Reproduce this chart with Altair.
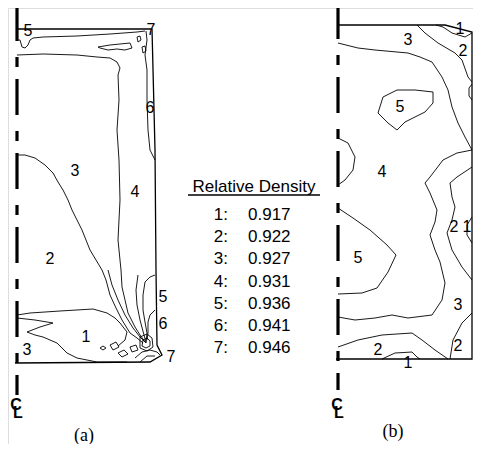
import altair as alt
import pandas as pd

# ---------------- data (r, z in 0.1 mm, origin at centreline / bottom of each section) ----
levels = ["1:", "2:", "3:", "4:", "5:", "6:", "7:"]
densities = ["0.917", "0.922", "0.927", "0.931", "0.936", "0.941", "0.946"]

A_box = [(0, 334), (135, 334), (138, 213), (139, 93), (140, 18), (145, 8), (133, 1), (-2, 0)]
A_contours = {
    "a1": [(0, 323), (3, 323), (5, 316), (8, 315), (11, 318), (13, 323), (16, 325), (26, 326),
           (60, 327), (93, 329), (120, 331), (128, 332)],
    "a2": [(0, 308), (26, 309), (60, 308), (80, 306), (93, 305), (100, 301), (103, 295), (101, 288),
           (102, 263), (100, 233), (102, 203), (103, 163), (101, 123), (104, 93), (105, 76),
           (111, 50), (118, 36), (123, 28), (129, 20)],
    "a3": [(0, 208), (8, 208), (18, 205), (28, 198), (36, 190), (41, 181), (46, 173), (51, 163),
           (55, 153), (60, 143), (65, 133), (69, 123), (73, 113), (79, 103), (85, 93), (89, 83),
           (93, 68), (99, 55), (105, 43), (113, 30), (120, 25), (126, 20)],
    "a4": [(129, 332), (130, 323), (128, 308), (130, 293), (130, 263), (131, 233), (133, 213), (138, 203)],
    "a5": [(81, 316), (93, 318), (103, 319), (113, 320), (115, 315), (108, 313), (100, 314), (91, 313),
           (83, 315), (81, 316)],
    "a6": [(120, 326), (123, 327), (124, 323), (121, 321), (120, 326)],
    "a7": [(125, 316), (128, 317), (129, 312), (126, 310), (125, 316)],
    "a8": [(138, 88), (133, 86), (128, 81), (126, 68), (126, 53), (128, 41), (130, 30), (129, 20)],
    "a9": [(138, 53), (133, 48), (131, 41), (131, 30), (130, 23)],
    "a10": [(91, 93), (95, 78), (101, 63), (108, 48), (116, 35), (123, 26), (128, 21)],
    "a11": [(121, 88), (119, 73), (120, 58), (123, 43), (127, 28), (129, 21)],
    "a12": [(0, 48), (13, 50), (43, 52), (76, 54), (90, 50), (98, 45), (103, 40), (110, 31),
            (108, 23), (101, 17)],
    "a13": [(0, 45), (18, 43), (36, 40), (23, 36), (10, 31), (18, 28), (26, 26), (33, 23), (40, 20),
            (45, 15), (50, 10), (60, 5), (80, 1), (110, 1)],
    "a14": [(83, 15), (86, 17), (89, 15), (86, 13), (83, 15)],
    "a15": [(93, 18), (99, 21), (102, 16), (96, 13), (93, 18)],
    "a16": [(101, 10), (107, 13), (111, 9), (105, 6), (101, 10)],
    "a17": [(113, 16), (119, 18), (121, 13), (115, 11), (113, 16)],
    "a18": [(126, 23), (130, 25), (133, 22), (133, 17), (129, 15), (125, 17), (126, 23)],
    "a19": [(123, 26), (130, 29), (135, 25), (136, 16), (130, 12), (123, 15), (123, 26)],
    "a20": [(118, 5), (125, 11), (133, 13), (140, 11), (143, 8)],
    "a21": [(123, 1), (130, 7), (138, 7)],
}
A_labels = [("5", 11, 332), ("7", 134, 333), ("6", 133, 255), ("3", 58, 192), ("4", 118, 171),
            ("2", 33, 104), ("5", 146, 66), ("6", 146, 39), ("1", 69, 26), ("3", 10, 13),
            ("7", 154, 6)]
A_centre = [(0, 358), (0, -32)]

B_box = [(0, 334), (107, 334), (134, 327), (134, 0), (-2, 0)]
B_contours = {
    "b1": [(98, 334), (105, 332), (114, 326), (127, 322), (134, 326)],
    "b2": [(79, 334), (87, 326), (100, 316), (117, 306), (124, 299), (130, 282), (134, 277)],
    "b3": [(0, 316), (20, 311), (37, 309), (70, 306), (82, 302), (94, 297), (104, 282), (110, 269),
           (114, 252), (120, 236), (127, 222), (134, 209)],
    "b4": [(59, 269), (77, 269), (95, 267), (95, 256), (87, 247), (67, 237), (59, 229), (50, 236),
           (40, 246), (45, 262), (59, 269)],
    "b5": [(0, 221), (10, 216), (17, 202), (15, 189), (7, 179), (0, 174)],
    "b6": [(134, 209), (119, 206), (105, 199), (92, 182), (87, 176), (92, 166), (99, 149), (97, 137),
           (92, 124), (97, 109), (102, 97), (107, 76), (104, 59), (94, 44), (70, 41), (54, 44),
           (37, 41), (17, 39), (0, 42)],
    "b7": [(134, 192), (119, 182), (112, 176), (114, 162), (117, 152), (114, 139), (109, 126),
           (114, 109), (124, 92), (134, 79)],
    "b8": [(134, 142), (129, 134), (129, 124), (134, 116)],
    "b9": [(134, 275), (131, 271), (131, 263), (134, 259)],
    "b10": [(0, 151), (15, 141), (32, 129), (49, 114), (58, 104), (50, 87), (39, 71), (24, 66), (0, 65)],
    "b11": [(0, 12), (20, 19), (44, 24), (74, 26), (84, 19), (97, 9), (110, 0)],
    "b12": [(44, 0), (57, 6), (74, 7), (79, 2), (82, 0)],
    "b13": [(134, 46), (124, 36), (115, 19), (112, 0)],
}
B_labels = [("1", 122, 330), ("3", 70, 319), ("2", 125, 308), ("5", 62, 252), ("4", 44, 187),
            ("2", 116, 132), ("1", 129, 132), ("5", 20, 101), ("3", 120, 54), ("2", 40, 9),
            ("2", 120, 13), ("1", 70, -4)]
B_centre = [(0, 356), (0, -31)]

# ---------------- layout (not data): where each section sits on the page ---------------
W, H = 465, 436
ORIGIN = {"a": (9, 355), "b": (330, 351)}   # position of (r=0, z=0) of each section
CAPTION = {"a": ("(a)", 67, -73), "b": ("(b)", 55, -73)}
CL_Z = {"a": -42, "b": -46}

FONT = "Liberation Sans"
INK = "#000000"


def place(panel, pts, name):
    ox, oy = ORIGIN[panel]
    return pd.DataFrame({"id": f"{panel}-{name}", "ord": range(len(pts)),
                         "px": [ox + p[0] for p in pts], "py": [oy - p[1] for p in pts]})


def place_text(panel, items):
    ox, oy = ORIGIN[panel]
    return pd.DataFrame({"t": [i[0] for i in items], "px": [ox + i[1] for i in items],
                         "py": [oy - i[2] for i in items]})


boxes = pd.concat([place("a", A_box, "box"), place("b", B_box, "box")], ignore_index=True)
conts = pd.concat([place("a", v, k) for k, v in A_contours.items()]
                  + [place("b", v, k) for k, v in B_contours.items()], ignore_index=True)
centres = pd.concat([place("a", A_centre, "cl"), place("b", B_centre, "cl")], ignore_index=True)
labels = pd.concat([place_text("a", A_labels), place_text("b", B_labels)], ignore_index=True)
clsym = pd.concat([place_text(p, [("C", -1, CL_Z[p]), ("L", 1, CL_Z[p] - 8)]) for p in "ab"],
                  ignore_index=True)
caps = pd.concat([place_text(p, [CAPTION[p]]) for p in "ab"], ignore_index=True)

leg_x_num, leg_x_val, leg_y0, leg_dy = 220, 240, 207, 22.2
legend_df = pd.DataFrame({"num": levels, "val": densities,
                          "py": [leg_y0 + leg_dy * i for i in range(len(levels))]})

X = alt.X("px:Q", scale=alt.Scale(domain=[0, W], nice=False, zero=False), axis=None)
Y = alt.Y("py:Q", scale=alt.Scale(domain=[0, H], reverse=True, nice=False, zero=False), axis=None)

one = pd.DataFrame({"a": [0]})
layers = [
    alt.Chart(boxes).mark_line(color=INK, strokeWidth=1.3)
    .encode(x=X, y=Y, detail="id:N", order="ord:Q"),
    alt.Chart(conts).mark_line(color=INK, strokeWidth=0.9)
    .encode(x=X, y=Y, detail="id:N", order="ord:Q"),
    alt.Chart(centres).mark_line(color=INK, strokeWidth=3.2, strokeDash=[36, 16, 10, 12])
    .encode(x=X, y=Y, detail="id:N", order="ord:Q"),
    alt.Chart(labels).mark_text(font=FONT, fontSize=16, color=INK, baseline="middle")
    .encode(x=X, y=Y, text="t:N"),
    alt.Chart(clsym).mark_text(font=FONT, fontSize=16, fontWeight="bold", color=INK,
                               baseline="middle")
    .encode(x=X, y=Y, text="t:N"),
    alt.Chart(caps).mark_text(font="Liberation Serif", fontSize=18, color=INK, baseline="middle")
    .encode(x=X, y=Y, text="t:N"),
    alt.Chart(one).mark_text(text="Relative Density", font=FONT, fontSize=17, color=INK,
                             baseline="middle")
    .encode(x=alt.value(246), y=alt.value(179)),
    alt.Chart(one).mark_rule(color=INK, strokeWidth=1.3)
    .encode(x=alt.value(180), x2=alt.value(312), y=alt.value(187)),
    alt.Chart(legend_df).mark_text(font=FONT, fontSize=17, color=INK, align="right",
                                   baseline="middle")
    .encode(x=alt.value(leg_x_num), y=Y, text="num:N"),
    alt.Chart(legend_df).mark_text(font=FONT, fontSize=17, color=INK, align="left",
                                   baseline="middle")
    .encode(x=alt.value(leg_x_val), y=Y, text="val:N"),
]

chart = alt.layer(*layers).properties(
    width=W, height=H, autosize=alt.AutoSizeParams(type="none"), padding=0
).configure_view(strokeWidth=0).configure(background="white")

chart.save("out.html", embed_options={"renderer": "svg", "actions": False})
